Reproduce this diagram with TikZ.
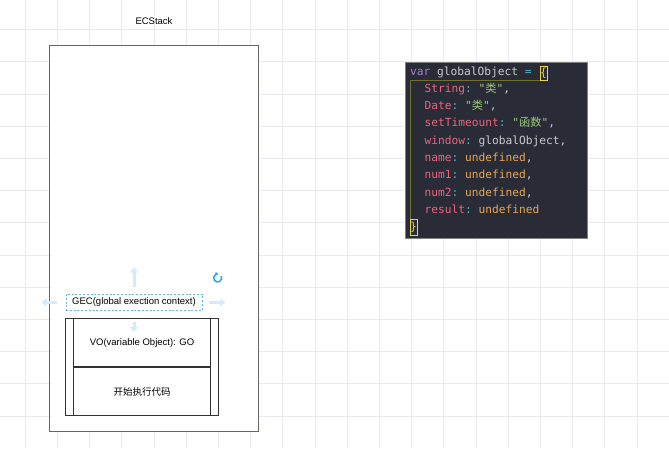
\documentclass[tikz,border=0pt]{standalone}
\usepackage{fontspec}
\setmainfont{Liberation Sans}
\setmonofont{DejaVu Sans Mono}
\newfontfamily\cjk{Noto Sans CJK SC}
\usepackage{xcolor}
\usetikzlibrary{positioning,arrows.meta,calc}

\definecolor{gridcol}{HTML}{E9E9EF}
\definecolor{handlecol}{HTML}{D3EBFA}
\definecolor{gecblue}{HTML}{5DB8EC}
\definecolor{rotblue}{HTML}{2EA3F2}
\definecolor{codebg}{HTML}{292C37}
\definecolor{kwcol}{HTML}{A77FCF}
\definecolor{idcol}{HTML}{C9CACF}
\definecolor{propcol}{HTML}{E8657D}
\definecolor{puncol}{HTML}{4CB8C4}
\definecolor{strcol}{HTML}{9DC97A}
\definecolor{undefcol}{HTML}{E6A656}
\definecolor{bracecol}{HTML}{E8D44D}
\definecolor{guidecol}{HTML}{6F7035}

\begin{document}
\begin{tikzpicture}[x=1pt, y=-1pt,
  gridline/.style={draw=gridcol, line width=0.7pt},
  uitext/.style={font=\fontsize{9.5}{11}\selectfont},
  stackbox/.style={draw=black!80, line width=0.9pt, inner sep=0pt,
                   uitext},
  handle/.style={-{Triangle[length=5pt, width=8pt]}, line width=3pt,
                 draw=handlecol},
  code/.style={anchor=base west, inner sep=0pt,
               font=\fontsize{11.2}{13}\ttfamily},
  bracebox/.style={draw=bracecol, line width=0.7pt, inner sep=0pt,
                   minimum width=6pt, text=bracecol,
                   font=\fontsize{11.2}{13}\ttfamily}]
  \useasboundingbox (0,0) rectangle (669,448);
  \fill[white] (0,0) rectangle (669,448);
  % background grid
  \foreach \gx in {0,...,19}
    \draw[gridline] ({25.1+32.2*\gx},0) -- ++(0,448);
  \foreach \gy in {0,...,12}
    \draw[gridline] (0,{29.5+32.2*\gy}) -- ++(669,0);

  % execution context stack
  \node[draw=black!60, line width=0.8pt, fill=white, inner sep=0pt,
        minimum width=209pt, minimum height=386pt] (ecstack) at (154,238) {};
  \node[uitext] (title) at (154,21) {ECStack};
  \node[uitext, draw=gecblue, line width=0.8pt,
        dash pattern=on 2pt off 1.8pt, inner sep=0pt,
        minimum width=136pt, minimum height=16.7pt] (gec) at (134,302.3)
    {GEC(global exection context)};
  \node[stackbox, minimum width=152.6pt, minimum height=96.3pt]
    (frame) at (142,366.8) {};
  \node[stackbox, minimum width=137pt, minimum height=48pt, anchor=north]
    (vo) at (frame.north) {VO(variable Object): GO};
  \node[stackbox, minimum width=137pt, minimum height=48.3pt, anchor=north]
    (run) at (vo.south) {\cjk 开始执行代码};

  % selection handles
  \draw[handle] ($(gec.north)+(0,-7)$) -- ++(0,-19);
  \draw[handle] ($(gec.west)+(-9,0)$) -- ++(-15,0);
  \draw[handle] ($(gec.east)+(7,0)$) -- ++(16,0);
  \draw[handle] ($(gec.south)+(0,11)$) -- ++(0,10);
  \coordinate (rot) at (217.7,278);
  \draw[rotblue, line width=1.5pt, -{Triangle[length=2.6pt, width=4pt]}]
    ($(rot)+(-30:4)$) arc[start angle=-30, end angle=275, radius=4];

  % global object code
  \node[fill=codebg, draw=black!50, line width=0.6pt, inner sep=0pt,
        minimum width=181.3pt, minimum height=176pt] (codebox) at (496.3,149.8) {};
  \node[bracebox, minimum height=14pt] (lbrace) at (543.6,73) {\{};
  \node[bracebox, minimum height=16pt, minimum width=5.5pt] (rbrace) at (413.5,227) {\}};
  \draw[guidecol, line width=0.8pt]
    (lbrace.south west) -| ([xshift=1pt]rbrace.north west);
  \node[code] (l0) at (410,75)
    {\textcolor{kwcol}{var} \textcolor{idcol}{globalObject} \textcolor{puncol}{=}};
  \node[code] (l1) at (424.5,92.2)
    {\textcolor{propcol}{String}\textcolor{puncol}{:} \textcolor{strcol}{"{\cjk 类}"}\textcolor{idcol}{,}};
  \node[code] (l2) at (424.5,109.5)
    {\textcolor{propcol}{Date}\textcolor{puncol}{:} \textcolor{strcol}{"{\cjk 类}"}\textcolor{idcol}{,}};
  \node[code] (l3) at (424.5,126.8)
    {\textcolor{propcol}{setTimeount}\textcolor{puncol}{:} \textcolor{strcol}{"{\cjk 函数}"}\textcolor{idcol}{,}};
  \node[code] (l4) at (424.5,144.1)
    {\textcolor{propcol}{window}\textcolor{puncol}{:} \textcolor{idcol}{globalObject,}};
  \node[code] (l5) at (424.5,161.4)
    {\textcolor{propcol}{name}\textcolor{puncol}{:} \textcolor{undefcol}{undefined}\textcolor{idcol}{,}};
  \node[code] (l6) at (424.5,178.7)
    {\textcolor{propcol}{num1}\textcolor{puncol}{:} \textcolor{undefcol}{undefined}\textcolor{idcol}{,}};
  \node[code] (l7) at (424.5,196)
    {\textcolor{propcol}{num2}\textcolor{puncol}{:} \textcolor{undefcol}{undefined}\textcolor{idcol}{,}};
  \node[code] (l8) at (424.5,213.3)
    {\textcolor{propcol}{result}\textcolor{puncol}{:} \textcolor{undefcol}{undefined}};
\end{tikzpicture}
\end{document}
